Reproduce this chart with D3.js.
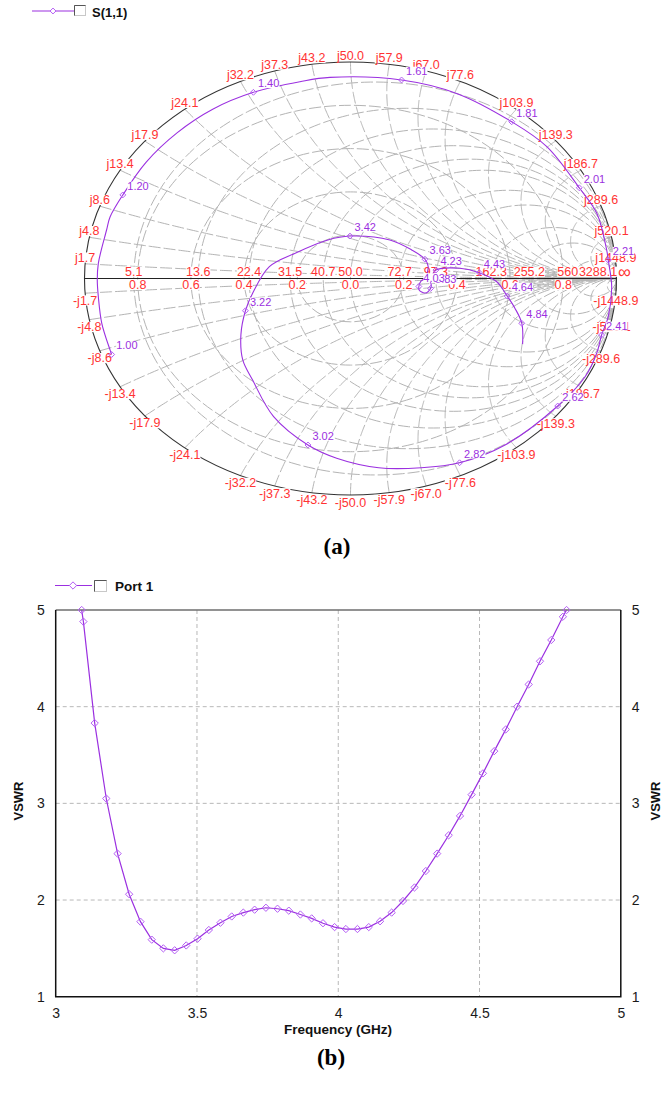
<!DOCTYPE html>
<html>
<head>
<meta charset="utf-8">
<script src="https://cdn.jsdelivr.net/npm/d3@7"></script>
<style>
  body { margin: 0; background: #fff; }
</style>
</head>
<body>
<div id="app"></div>
<script>
// ---------- data: Smith chart (a) ----------
const z0 = 50;
// reactance labels round the rim (ohms), used as +j and -j
const reactanceLabels = [1.7, 4.8, 8.6, 13.4, 17.9, 24.1, 32.2, 37.3, 43.2, 50.0,
  57.9, 67.0, 77.6, 103.9, 139.3, 186.7, 289.6, 520.1, 1448.9];
// resistance labels along the real axis (ohms)
const resistanceLabels = [5.1, 13.6, 22.4, 31.5, 40.7, 50.0, 72.7, 97.3, 162.3, 255.2, 560.0, 3288.1];
// |gamma| labels under the real axis
const gammaLabels = [-0.8, -0.6, -0.4, -0.2, 0.0, 0.2, 0.4, 0.6, 0.8];

// S(1,1) trace, reflection coefficient
const s11Re = [-0.898, -0.904, -0.935, -0.948, -0.952, -0.948, -0.917, -0.904, -0.856, -0.768,
  -0.651, -0.518, -0.365, -0.190, -0.077, 0.192, 0.399, 0.606, 0.738, 0.860,
  0.926, 0.963, 0.969, 0.982, 0.969, 0.944, 0.926, 0.882, 0.779, 0.581,
  0.410, 0.265, 0.106, -0.052, -0.160, -0.289, -0.368, -0.405, -0.412, -0.395,
  -0.368, -0.305, -0.210, -0.085, -0.002, 0.148, 0.230, 0.280, 0.292, 0.288,
  0.303, 0.301, 0.280, 0.258, 0.257, 0.265, 0.288, 0.306, 0.321, 0.412,
  0.484, 0.550, 0.589, 0.618, 0.644, 0.647];
const s11Im = [-0.351, -0.330, -0.207, -0.084, -0.007, 0.070, 0.224, 0.284, 0.386, 0.538,
  0.674, 0.782, 0.860, 0.909, 0.929, 0.917, 0.855, 0.724, 0.609, 0.419,
  0.301, 0.132, 0.085, -0.038, -0.176, -0.261, -0.344, -0.454, -0.589, -0.769,
  -0.851, -0.874, -0.874, -0.830, -0.769, -0.638, -0.469, -0.376, -0.260, -0.149,
  -0.068, 0.055, 0.116, 0.178, 0.196, 0.178, 0.132, 0.089, 0.055, 0.012,
  -0.025, -0.046, -0.067, -0.053, -0.037, -0.012, 0.002, 0.016, 0.039, 0.047,
  0.027, -0.015, -0.081, -0.137, -0.207, -0.303];

// frequency markers on the trace (GHz)
const markerFreq = ["1.00", "1.20", "1.40", "1.61", "1.81", "2.01", "2.21", "2.41", "2.62", "2.82",
  "3.02", "3.22", "3.42", "3.63", "3.83", "4.03", "4.23", "4.43", "4.64", "4.84"];
const markerRe = [-0.898, -0.856, -0.365, 0.192, 0.606, 0.860, 0.969, 0.944, 0.779, 0.410,
  -0.160, -0.395, -0.002, 0.280, 0.301, 0.257, 0.321, 0.484, 0.589, 0.644];
const markerIm = [-0.351, 0.386, 0.860, 0.917, 0.724, 0.419, 0.085, -0.261, -0.589, -0.851,
  -0.769, -0.149, 0.196, 0.089, -0.046, -0.037, 0.039, 0.027, -0.081, -0.207];

// ---------- data: VSWR (b) ----------
const vswrFreq = [3.092, 3.098, 3.138, 3.179, 3.219, 3.260, 3.300, 3.340, 3.381, 3.421,
  3.462, 3.502, 3.542, 3.583, 3.623, 3.664, 3.704, 3.744, 3.785, 3.825,
  3.866, 3.906, 3.946, 3.987, 4.027, 4.068, 4.108, 4.148, 4.189, 4.229,
  4.270, 4.310, 4.350, 4.391, 4.431, 4.472, 4.512, 4.552, 4.593, 4.633,
  4.674, 4.714, 4.754, 4.795, 4.808];
const vswrValue = [5.00, 4.88, 3.83, 3.05, 2.48, 2.06, 1.776, 1.59, 1.50, 1.48,
  1.53, 1.60, 1.69, 1.765, 1.83, 1.87, 1.90, 1.92, 1.91, 1.89,
  1.85, 1.81, 1.76, 1.72, 1.70, 1.70, 1.72, 1.78, 1.87, 1.99,
  2.13, 2.30, 2.48, 2.67, 2.87, 3.09, 3.31, 3.54, 3.765, 4.00,
  4.23, 4.47, 4.69, 4.93, 5.00];
const freqTicks = [3, 3.5, 4, 4.5, 5];
const vswrTicks = [1, 2, 3, 4, 5];

// ---------- setup ----------
const traceColor = "#9b30e0";
const markerColor = "#b45cf5";
const labelRed = "#ff3333";
const sans = "'Liberation Sans', Arial, sans-serif";

const svg = d3.select("#app")
  .append("svg")
  .attr("width", 661)
  .attr("height", 1093)
  .style("font-family", sans);

// z = r + jx (normalised) -> gamma
const gammaOf = (r, x) => {
  const den = (r + 1) * (r + 1) + x * x;
  return [((r - 1) * (r + 1) + x * x) / den, (2 * x) / den];
};

// white box behind a label, like the original tool does
function boxedText(g, x, y, txt, size, color, anchor) {
  const t = g.append("text")
    .attr("x", x)
    .attr("y", y)
    .attr("text-anchor", anchor || "middle")
    .attr("font-size", size)
    .attr("fill", color)
    .text(txt);
  const b = t.node().getBBox();
  g.insert("rect", () => t.node())
    .attr("x", b.x)
    .attr("y", y - size * 0.75)
    .attr("width", b.width)
    .attr("height", size * 0.82)
    .attr("fill", "#fff");
  return t;
}

// ---------- (a) Smith chart ----------
const cx = 350.5, cy = 278.5, rx = 266, ry = 216.5;
const gx = d3.scaleLinear().domain([-1, 1]).range([cx - rx, cx + rx]);
const gy = d3.scaleLinear().domain([-1, 1]).range([cy + ry, cy - ry]);
const gline = d3.line().x(d => gx(d[0])).y(d => gy(d[1]));

const smith = svg.append("g");
const grid = smith.append("g")
  .attr("fill", "none")
  .attr("stroke", "#b4b4b4")
  .attr("stroke-width", 1)
  .attr("stroke-dasharray", "12,3");

// constant resistance circles
const steps = d3.range(0, 241);
resistanceLabels.forEach(R => {
  const r = R / z0;
  const pts = steps.map(i => gammaOf(r, Math.tan(-Math.PI / 2 + 0.0005 + (Math.PI - 0.001) * i / 240)));
  pts.push([1, 0]);
  grid.append("path").attr("d", gline(pts));
});

// constant reactance arcs
reactanceLabels.forEach(X => {
  [1, -1].forEach(s => {
    const x = s * X / z0;
    const pts = steps.map(i => gammaOf(Math.tan((Math.PI / 2 - 0.0005) * i / 240), x));
    grid.append("path").attr("d", gline(pts));
  });
});

// constant |gamma| circles
gammaLabels.filter(v => v > 0).forEach(m => {
  grid.append("ellipse")
    .attr("cx", gx(0)).attr("cy", gy(0))
    .attr("rx", gx(m) - gx(0)).attr("ry", gy(0) - gy(m));
});

// rim and real axis
smith.append("ellipse")
  .attr("cx", gx(0)).attr("cy", gy(0))
  .attr("rx", gx(1) - gx(0)).attr("ry", gy(0) - gy(1))
  .attr("fill", "none").attr("stroke", "#333").attr("stroke-width", 1.1);
smith.append("line")
  .attr("x1", gx(-1)).attr("x2", gx(1))
  .attr("y1", gy(0)).attr("y2", gy(0))
  .attr("stroke", "#222").attr("stroke-width", 1.1);

// rim labels
const rimLabels = smith.append("g");
reactanceLabels.forEach(X => {
  const p = gammaOf(0, X / z0);
  boxedText(rimLabels, gx(p[0]), gy(p[1]) - 2, "j" + X.toFixed(1), 12.5, labelRed);
  const q = gammaOf(0, -X / z0);
  boxedText(rimLabels, gx(q[0]), gy(q[1]) + 11.5, "-j" + X.toFixed(1), 12.5, labelRed);
});

// axis labels
const axisLabels = smith.append("g");
resistanceLabels.forEach(R => {
  const p = gammaOf(R / z0, 0);
  boxedText(axisLabels, Math.min(gx(p[0]), 598), gy(0) - 2.5, R.toFixed(1), 12.5, labelRed);
});
gammaLabels.forEach(v => {
  boxedText(axisLabels, gx(v), gy(0) + 10.5, Math.abs(v).toFixed(1), 12.5, labelRed);
});
axisLabels.append("text")
  .attr("x", gx(1) + 1.5).attr("y", gy(0) - 1)
  .attr("font-size", 18).attr("fill", labelRed)
  .text("\u221e");

// trace
const s11 = s11Re.map((d, i) => [d, s11Im[i]]);
smith.append("path")
  .attr("d", gline.curve(d3.curveCatmullRom)(s11))
  .attr("fill", "none")
  .attr("stroke", traceColor)
  .attr("stroke-width", 1.1);
gline.curve(d3.curveLinear);

const diamondSmall = d3.symbol(d3.symbolDiamond2, 22);
const markerG = smith.append("g");
markerFreq.forEach((f, i) => {
  markerG.append("path")
    .attr("d", diamondSmall())
    .attr("transform", `translate(${gx(markerRe[i])},${gy(markerIm[i])})`)
    .attr("fill", "none")
    .attr("stroke", markerColor)
    .attr("stroke-width", 1);
});
markerFreq.forEach((f, i) => {
  boxedText(markerG, gx(markerRe[i]) + 4.5, gy(markerIm[i]) - 5, f, 11, traceColor, "start");
});

// legend (a)
const legA = svg.append("g");
legA.append("line").attr("x1", 32).attr("x2", 74).attr("y1", 11).attr("y2", 11)
  .attr("stroke", traceColor).attr("stroke-width", 1.2);
legA.append("path").attr("d", diamondSmall()).attr("transform", "translate(53,11)")
  .attr("fill", "#fff").attr("stroke", markerColor);
legA.append("rect").attr("x", 74.5).attr("y", 5.5).attr("width", 11).attr("height", 10)
  .attr("fill", "#fff").attr("stroke", "#c8c8c8");
legA.append("path").attr("d", "M74.5,15.5V5.5H85.5").attr("fill", "none").attr("stroke", "#555");
legA.append("text").attr("x", 92).attr("y", 16.5)
  .attr("font-size", 13).attr("font-weight", "bold").attr("fill", "#111")
  .text("S(1,1)");

svg.append("text")
  .attr("x", 337).attr("y", 554)
  .attr("text-anchor", "middle")
  .attr("font-family", "'Liberation Serif', 'Times New Roman', serif")
  .attr("font-weight", "bold").attr("font-size", 23)
  .text("(a)");

// ---------- (b) VSWR ----------
const vx = d3.scaleLinear().domain([3, 5]).range([55.7, 620.8]);
const vy = d3.scaleLinear().domain([1, 5]).range([996.7, 610]);

const plot = svg.append("g");
const gridB = plot.append("g")
  .attr("stroke", "#b8b8b8")
  .attr("stroke-width", 1)
  .attr("stroke-dasharray", "4,3");
freqTicks.slice(1, -1).forEach(f => {
  gridB.append("line").attr("x1", vx(f)).attr("x2", vx(f)).attr("y1", vy(5)).attr("y2", vy(1));
});
vswrTicks.slice(1, -1).forEach(v => {
  gridB.append("line").attr("x1", vx(3)).attr("x2", vx(5)).attr("y1", vy(v)).attr("y2", vy(v));
});

plot.append("line").attr("x1", vx(3)).attr("x2", vx(5)).attr("y1", vy(5)).attr("y2", vy(5))
  .attr("stroke", "#6e6e6e").attr("stroke-width", 1.6);
plot.append("path")
  .attr("d", `M${vx(3)},${vy(5)}V${vy(1)}H${vx(5)}V${vy(5)}`)
  .attr("fill", "none").attr("stroke", "#111").attr("stroke-width", 1.5);

const xAxis = plot.append("g")
  .attr("transform", `translate(0,${vy(1)})`)
  .call(d3.axisBottom(vx).tickValues(freqTicks).tickSize(0).tickPadding(11).tickFormat(d => d));
const yAxisL = plot.append("g")
  .attr("transform", `translate(${vx(3)},0)`)
  .call(d3.axisLeft(vy).tickValues(vswrTicks).tickSize(0).tickPadding(11).tickFormat(d => d));
const yAxisR = plot.append("g")
  .attr("transform", `translate(${vx(5)},0)`)
  .call(d3.axisRight(vy).tickValues(vswrTicks).tickSize(0).tickPadding(11).tickFormat(d => d));
[xAxis, yAxisL, yAxisR].forEach(a => {
  a.select(".domain").remove();
  a.selectAll("text").attr("font-size", 14).attr("font-family", sans).attr("fill", "#1a1a1a");
});

const vswrPts = vswrFreq.map((f, i) => [vx(f), vy(vswrValue[i])]);
plot.append("path")
  .attr("d", d3.line()(vswrPts))
  .attr("fill", "none")
  .attr("stroke", traceColor)
  .attr("stroke-width", 1.2);
const diamond = d3.symbol(d3.symbolDiamond2, 34);
plot.append("g")
  .selectAll("path")
  .data(vswrPts)
  .join("path")
  .attr("d", diamond())
  .attr("transform", d => `translate(${d[0]},${d[1]})`)
  .attr("fill", "none")
  .attr("stroke", markerColor)
  .attr("stroke-width", 1);

plot.append("text")
  .attr("x", 338).attr("y", 1034)
  .attr("text-anchor", "middle")
  .attr("font-size", 13.5).attr("font-weight", "bold").attr("fill", "#111")
  .text("Frequency (GHz)");
plot.append("text")
  .attr("transform", "translate(22.5,801) rotate(-90)")
  .attr("text-anchor", "middle")
  .attr("font-size", 13).attr("font-weight", "bold").attr("fill", "#111")
  .text("VSWR");
plot.append("text")
  .attr("transform", "translate(659.5,801) rotate(-90)")
  .attr("text-anchor", "middle")
  .attr("font-size", 13).attr("font-weight", "bold").attr("fill", "#111")
  .text("VSWR");

// legend (b)
const legB = svg.append("g");
legB.append("line").attr("x1", 55).attr("x2", 92).attr("y1", 585.5).attr("y2", 585.5)
  .attr("stroke", traceColor).attr("stroke-width", 1.2);
legB.append("path").attr("d", diamond()).attr("transform", "translate(73,585.5)")
  .attr("fill", "#fff").attr("stroke", markerColor);
legB.append("rect").attr("x", 94.5).attr("y", 580.5).attr("width", 12).attr("height", 11)
  .attr("fill", "#fff").attr("stroke", "#c8c8c8");
legB.append("path").attr("d", "M94.5,591.5V580.5H106.5").attr("fill", "none").attr("stroke", "#555");
legB.append("text").attr("x", 115).attr("y", 591)
  .attr("font-size", 13.5).attr("font-weight", "bold").attr("fill", "#111")
  .text("Port 1");

svg.append("text")
  .attr("x", 331).attr("y", 1065)
  .attr("text-anchor", "middle")
  .attr("font-family", "'Liberation Serif', 'Times New Roman', serif")
  .attr("font-weight", "bold").attr("font-size", 23)
  .text("(b)");
</script>
</body>
</html>
